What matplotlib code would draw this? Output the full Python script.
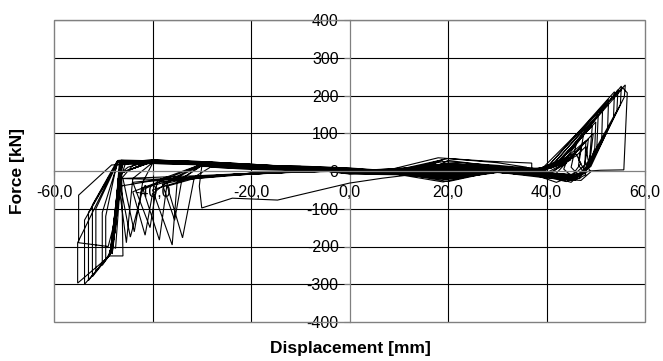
import matplotlib
matplotlib.use("Agg")
import matplotlib.pyplot as plt
from matplotlib.patches import Rectangle

# ---------------- data (displacement [mm], force [kN]) per load cycle ----------------
disp_c01 = [0, 5, 10, 5, 0, -5, -10, -5, 0]
force_c01 = [0, 1, 3, 1, -1, 1, 2, 0, 0]
disp_c02 = [0, 8, 15, 19, 12, 5, 0, -8, -15, -20, -12, -5, 0]
force_c02 = [0, 2, 8, 30, 5, -2, -2, 3, 6, 8, 3, 1, 0]
disp_c03 = [0, 8, 18, 28, 37, 37, 30, 20, 10, 0, -10, -20, -28, -20, -10, 0]
force_c03 = [0, 3, 35, 26, 21, 5, 0, -28, -5, -2, 3, 7, 10, 4, 1, 0]
disp_c04 = [0, 10, 20, 30, 36, 30, 19, 8, 0, -10, -20, -30, -30.5, -30, -23.8, -14.6, 0, 6.7, 15]
force_c04 = [0, 4, 33, 22, 10, 2, -29, -5, -2, 4, 10, 12, -40, -98, -72, -77, -32, -19, -6]
disp_c05 = [15, 20, 30, 38, 42, 44.5, 43.5, 46, 40, 30, 20, 10, 0, -10, -20, -28, -31.5, -33.9, -37, -31, -20, -10, 0]
force_c05 = [-6, 28, 12, 5, 15, 40, 5, -24, -12, -4, -22, -4, -5, 4, 8, 12, -16, -177, -40, -18, -6, 0, 0]
disp_c06 = [0, 10, 19, 30, 38, 42, 46, 45, 47, 45, 40, 30, 19, 10, 0, -10, -20, -30, -35, -36, -40, -33, -20, -10, 0]
force_c06 = [0, 3, 25, 15, 6, 18, 70, 10, -18, -24, -8, -3, -22, -8, -4, 5, 10, 14, -29, -196, -50, -22, -8, -2, 0]
disp_c07 = [0, 10, 20, 30, 38, 42, 47.5, 46.5, 48, 46, 40, 30, 20, 10, 0, -10, -20, -30, -37, -38.6, -42, -36, -25, -10, 0]
force_c07 = [0, 6, 20, 12, 5, 20, 95, 15, -10, -22, -6, -2, -18, -3, 3, 5, 11, 16, -30, -183, -45, -25, -12, -2, 0]
disp_c08 = [0, 10, 20, 30, 38, 41.5, 49.3, 48.8, 48.7, 47, 45, 40, 30, 20, 10, 0, -10, -20, -30, -39, -40.5, -44, -38, -25, -10, 0]
force_c08 = [0, 3, 18, 10, 4, 15, 120, 40, 10, -10, -20, -5, -1, -15, -9, -6, 6, 12, 18, -25, -150, -30, -22, -10, -3, 0]
disp_c09 = [0, 10, 20, 30, 38, 41, 50.5, 50.2, 48.7, 47, 40, 30, 20, 10, 0, -10, -20, -30, -40, -42, -43.7, -46, -40, -30, -20, -10, 0]
force_c09 = [0, 2, 15, 8, 3, 14, 150, 55, 10, -12, -8, -2, -12, -2, 5, 9, 13, 18, 20, -30, -161, -20, -22, -15, -8, -2, 0]
disp_c10 = [0, 10, 20, 30, 38, 40, 51.4, 51.2, 48.4, 47, 40, 30, 20, 10, 0, -10, -20, -30, -40, -44, -45.3, -47, -42, -30, -20, -10, 0]
force_c10 = [0, 2, 12, 6, 3, 8, 171, 79, 10, -10, -6, -2, -10, -2, -3, 6, 13, 20, 22, -20, -190, -20, -18, -12, -6, -2, 0]
disp_c11 = [0, 10, 20, 30, 38, 41, 52.6, 52.4, 48.0, 46, 40, 30, 20, 10, 0, -10, -20, -30, -40, -46, -46.5, -48.7, -46, -46.3, -40, -30, -20, -10, 0]
force_c11 = [0, 2, 10, 5, 2, 12, 189, 109, 5, -15, -5, -1, -8, -2, 7, 12, 14, 20, 23, 24, -5, -225, -225, 20, 22, 17, 9, 8, 0]
disp_c12 = [0, 10, 20, 30, 38, 40, 53.8, 53.6, 49.0, 46, 40, 30, 20, 10, 0, -10, -20, -30, -40, -46.5, -47.5, -48.5, -49.5, -49.5, -47.2, -40, -30, -20, -10, 0]
force_c12 = [0, -5, 8, 4, 2, 8, 210, 140, 12, -15, -5, -1, -6, -2, -7, 7, 14, 20, 24, -5, -150, -215, -235, -120, 22, 22, 17, 9, 3, 0]
disp_c13 = [0, 10, 20, 30, 38, 42, 55.2, 55.0, 48.5, 46, 40, 30, 20, 10, 0, -10, -20, -30, -40, -46.5, -47.6, -48.5, -50.2, -50.2, -47.0, -40, -30, -20, -10, 0]
force_c13 = [0, 2, 6, 3, 1, 14, 225, 176, 8, -15, -5, -1, -5, -1, 4, 7, 15, 21, 25, -6, -160, -218, -250, -110, 24, 23, 18, 14, 10, 0]
disp_c14 = [0, 10, 20, 30, 38, 39, 56.0, 55.8, 48.7, 46, 40, 30, 20, 10, 0, -10, -20, -30, -40, -46.5, -47.7, -48.6, -51.5, -51.5, -47.0, -40, -30, -20, -10, 0]
force_c14 = [0, 1, 5, 2, 1, 5, 228, 196, 10, -14, -5, -1, -4, -6, -4, 8, 16, 22, 26, -6, -165, -220, -265, -100, 25, 24, 18, 10, 3, 0]
disp_c15 = [0, 10, 20, 30, 38, 43, 54.5, 54.3, 47.8, 46, 40, 30, 20, 10, 0, -10, -20, -30, -40, -46.5, -47.8, -48.7, -52.2, -52.2, -47.2, -40, -30, -20, -10, 0]
force_c15 = [0, 1, 5, 2, 1, 18, 215, 160, 6, -12, -4, -1, -4, -1, 8, 13, 16, 22, 26, -6, -170, -222, -280, -90, 26, 24, 18, 10, 6, 0]
disp_c16 = [0, 10, 20, 30, 38, 41.5, 55.5, 56.4, 55.7, 51, 48.7, 46, 40, 30, 20, 10, 0, -10, -20, -30, -40, -46.5, -47.8, -48.8, -53.0, -53.0, -47.0, -40, -30, -20, -10, 0]
force_c16 = [0, 1, 4, 2, 1, 10, 220, 207, 3, 2, 0, -12, -4, -1, -3, -1, -5, 8, 16, 23, 27, -6, -175, -222, -290, -110, 27, 25, 19, 10, 3, 0]
disp_c17 = [0, -10, -20, -30, -40, -46.5, -48, -48.8, -53.8, -53.8, -46.8, -40, -30, -20, -10, 0]
force_c17 = [0, 8, 16, 23, 27, -6, -180, -225, -300, -130, 28, 26, 19, 12, 12, 0]
disp_c18 = [0, 10, 20, 30, 38, 45, 40, 30, 10, 0, -10, -20, -30, -40, -46.5, -48, -49, -55.2, -55.2, -47, -40, -30, -20, -10, 0]
force_c18 = [0, 1, 4, 2, 1, 30, -5, -1, -1, 0, 8, 16, 23, 27, -6, -185, -228, -297, -190, 28, 26, 19, 10, 3, 0]
disp_c19 = [0, 10, 20, 30, 40, 30, 10, 0, -10, -20, -30, -40, -46.5, -48, -49, -55.0, -55.0, -48.3, -40, -30, -20, -10, 0]
force_c19 = [0, 1, 3, 2, 0, 0, 0, 0, 8, 16, 22, 27, -6, -150, -200, -190, -64, 16, 20, 16, 10, 3, 0]
disp_c20 = [0, 10, 20, 30, 39, 43, 47, 46.5, 48, 44, 38, 30, 20, 10, 0, -10, -20, -30, -40, -45, -46.8, -48, -47.5, -46.2, -40, -30, -20, -10, 0]
force_c20 = [0, 7, 10, 4, 3, 20, 60, 30, -5, -28, -10, -2, -12, -3, 6, 9, 17, 24, 28, 10, -10, -200, -205, 26, 25, 20, 11, 4, 0]
disp_c21 = [0, 10, 20, 30, 40, 44, 48.5, 48.2, 47.5, 45, 40, 30, 20, 10, 0, -10, -20, -30, -40, -46, -46.6, -47.8, -48.2, -46.4, -40, -30, -20, -10, 0]
force_c21 = [0, 3, 14, 6, 4, 25, 85, 50, 0, -30, -12, -3, -18, -10, -8, 8, 15, 22, 27, 18, -15, -180, -220, 24, 23, 19, 12, 7, 0]
disp_c22 = [0, 10, 20, 30, 40, 45, 49.5, 49.0, 48, 46, 40, 30, 20, 10, 0, -10, -20, -30, -40, -46.2, -46.8, -47.9, -48.5, -46.5, -40, -30, -20, -10, 0]
force_c22 = [0, 2, 16, 8, 6, 35, 100, 45, 5, -20, -8, -2, -14, -3, 2, 9, 16, 23, 28, 22, -12, -170, -212, 25, 24, 19, 10, 4, 0]
disp_c23 = [0, 10, 20, 30, 38, 43, 50, 49.8, 48.5, 45, 40, 30, 20, 10, 0, -10, -20, -30, -40, -44, -46.3, -47.7, -48.3, -46.3, -42, -35, -25, -15, 0]
force_c23 = [0, 2, 12, 5, 3, 30, 130, 60, 8, -25, -10, -2, -10, -2, -2, 8, 17, 24, 29, 15, -20, -160, -210, 27, 25, 22, 14, 7, 0]
disp_c24 = [0, 10, 20, 30, 40, 42, 44, 46, 47, 45, 42, 38, 30, 20, 10, 0, -10, -20, -30, -40, -45.5, -46.5, -47.6, -48, -46.6, -40, -30, -20, -10, 0]
force_c24 = [0, 3, 20, 10, 5, 15, 30, 45, 20, -15, -30, -12, -3, -20, -4, 6, 9, 16, 23, 27, 20, -20, -150, -190, 22, 23, 18, 10, 3, 0]
disp_c25 = [0, 10, 20, 30, 40, 43, 46, 48, 48.5, 46, 43, 38, 30, 20, 10, 0, -10, -20, -30, -40, -46, -46.8, -47.5, -48.1, -46.7, -40, -30, -20, -10, 0]
force_c25 = [0, 2, 17, 9, 5, 18, 40, 65, 25, -5, -20, -5, -1, -15, -3, -6, 10, 18, 25, 29, 25, 0, -120, -205, 26, 25, 20, 11, 4, 0]
disp_c26 = [0, 10, 20, 30, 41, 43, 48, 47.8, 49, 47, 44, 40, 30, 20, 10, 0, -10, -20, -30, -40, -46.4, -47.0, -48.0, -48.6, -46.4, -40, -30, -20, -10, 0]
force_c26 = [0, 2, 14, 6, 8, 25, 80, 20, -2, -25, -22, -8, -2, -8, -2, 3, 10, 18, 25, 29, 24, -30, -185, -218, 29, 27, 20, 11, 4, 0]
disp_c27 = [0, 10, 20, 30, 38, 44, 40, 30, 20, 10, 0, -10, -20, -30, -36, -40, -41.5, -44, -39, -30, -20, -10, 0]
force_c27 = [0, 2, 12, 6, 3, 20, -10, -2, -10, -2, 0, 6, 12, 17, -20, -60, -170, -55, -30, -15, -6, -2, 0]
disp_c28 = [0, 10, 20, 30, 38, 45, 40, 30, 20, 10, 0, -10, -20, -30, -38, -42, -44.5, -46.5, -41, -30, -20, -10, 0]
force_c28 = [0, 2, 10, 5, 3, 35, -15, -3, -12, -2, 0, 7, 13, 18, -25, -50, -175, -40, -28, -14, -6, -2, 0]
disp_c29 = [0, 10, 20, 30, 39, 46, 41, 30, 20, 10, 0, -10, -20, -30, -34, -35.5, -38, -33, -25, -10, 0]
force_c29 = [0, 2, 11, 5, 3, 50, -20, -3, -15, -3, 0, 6, 12, 16, -20, -130, -35, -20, -10, -2, 0]

x_ticks = [-60, -40, -20, 0, 20, 40, 60]
x_tick_labels = ["-60,0", "-40,0", "-20,0", "0,0", "20,0", "40,0", "60,0"]
y_ticks = [-400, -300, -200, -100, 0, 100, 200, 300, 400]
y_tick_labels = ["-400", "-300", "-200", "-100", "0", "100", "200", "300", "400"]

x_title = "Displacement [mm]"
y_title = "Force [kN]"

# ---------------- plotting ----------------
plt.rcParams['font.family'] = ['Liberation Sans', 'DejaVu Sans']

W, H = 663, 361
fig = plt.figure(figsize=(W / 100, H / 100), dpi=100)
fig.patch.set_facecolor("white")
left, right, top, bottom = 54, 645, 20, 322
ax = fig.add_axes([left / W, 1 - bottom / H, (right - left) / W, (bottom - top) / H])

cycles = [(disp_c01, force_c01), (disp_c02, force_c02), (disp_c03, force_c03),
          (disp_c04, force_c04), (disp_c05, force_c05), (disp_c06, force_c06),
          (disp_c27, force_c27), (disp_c07, force_c07), (disp_c29, force_c29),
          (disp_c08, force_c08), (disp_c28, force_c28), (disp_c09, force_c09),
          (disp_c24, force_c24), (disp_c10, force_c10), (disp_c20, force_c20),
          (disp_c25, force_c25), (disp_c11, force_c11), (disp_c21, force_c21),
          (disp_c26, force_c26), (disp_c12, force_c12), (disp_c22, force_c22),
          (disp_c23, force_c23), (disp_c13, force_c13), (disp_c14, force_c14),
          (disp_c15, force_c15), (disp_c16, force_c16), (disp_c17, force_c17),
          (disp_c18, force_c18), (disp_c19, force_c19)]
disp_all = []
force_all = []
for d, f in cycles:
    disp_all.extend(d)
    force_all.extend(f)

ax.set_xlim(-60, 60)
ax.set_ylim(-400, 400)

# gridlines
for xv in x_ticks:
    if xv not in (-60, 0, 60):
        ax.axvline(xv, color="black", lw=0.8, zorder=1)
for yv in y_ticks:
    if yv not in (-400, 0, 400):
        ax.axhline(yv, color="black", lw=0.8, zorder=1)
ax.axhline(400, color="#808080", lw=0.9, zorder=1)

ax.plot(disp_all, force_all, color="black", lw=0.8, zorder=3, solid_joinstyle="miter")

# spines: axes crossing at zero, gray frame
for s in ("top", "right"):
    ax.spines[s].set_visible(False)
ax.spines["left"].set_position(("data", 0))
ax.spines["bottom"].set_position(("data", 0))
for s in ("left", "bottom"):
    ax.spines[s].set_color("#808080")
    ax.spines[s].set_linewidth(0.9)
ax.spines["left"].set_zorder(2)
ax.spines["bottom"].set_zorder(4)
ax.add_patch(Rectangle((0, 0), 1, 1, transform=ax.transAxes, fill=False,
                       edgecolor="#808080", lw=1.0, zorder=5, clip_on=False))

ax.set_xticks(x_ticks)
ax.set_xticklabels(x_tick_labels)
ax.set_yticks(y_ticks)
ax.set_yticklabels(y_tick_labels)
ax.tick_params(axis="y", direction="out", length=4.3, width=0.8, color="#808080",
               labelsize=11.5, pad=3.5)
ax.tick_params(axis="x", direction="out", length=2.9, width=0.8, color="#808080",
               labelsize=11.5, pad=7.5)

fig.text(350 / W, 1 - 349 / H, x_title, ha="center", va="center",
         fontsize=12.5, fontweight="bold")
fig.text(18 / W, 1 - 171 / H, y_title, ha="center", va="center", rotation=90,
         fontsize=12.5, fontweight="bold")

fig.savefig("out.png", dpi=100, facecolor="white")
